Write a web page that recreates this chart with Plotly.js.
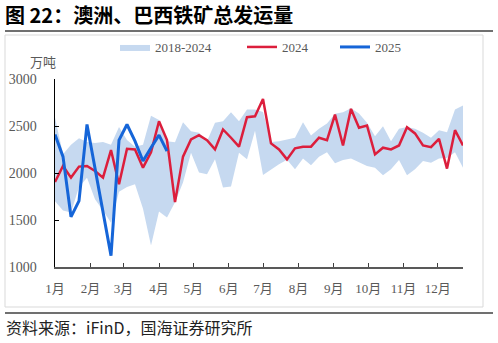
<!DOCTYPE html>
<html><head><meta charset="utf-8">
<script src="https://cdn.plot.ly/plotly-3.0.1.min.js"></script>
<style>html,body{margin:0;padding:0;background:#fff;}#chart{width:498px;height:343px;}</style>
</head><body><div id="chart"></div>
<script>
// ---- data ----
const weekStart = [2024, 0, 1];
const monthStarts = ['2024-01-01','2024-02-01','2024-03-01','2024-04-01','2024-05-01','2024-06-01','2024-07-01','2024-08-01','2024-09-01','2024-10-01','2024-11-01','2024-12-01'];
const monthLabels = ['1月','2月','3月','4月','5月','6月','7月','8月','9月','10月','11月','12月'];
const bandLower = [1700,1600,1580,1850,1950,1720,1600,1470,1800,1850,1880,1620,1230,1590,1527,1690,1898,2216,2004,1986,2145,1845,1856,2216,2145,2450,1980,2039,2092,2140,2039,2153,2082,2174,2222,2103,2138,2153,2110,2074,2057,1976,2039,2138,1976,2039,2127,2110,2153,2160,2222,2057];
const bandUpper = [2590,2200,2300,2370,2330,2320,2330,2300,2490,2350,2280,2300,2610,2565,2339,2328,2540,2445,2428,2339,2534,2551,2646,2551,2675,2675,2650,2330,2339,2357,2375,2540,2400,2470,2526,2630,2646,2690,2632,2534,2392,2498,2339,2470,2490,2470,2428,2375,2456,2434,2675,2717];
const y2024 = [1905,2074,1951,2068,2074,2021,1951,2244,1880,2258,2251,2057,2220,2551,2350,1690,2174,2357,2403,2350,2251,2463,2375,2280,2594,2604,2788,2315,2251,2145,2262,2280,2280,2375,2350,2622,2293,2682,2481,2505,2198,2269,2251,2293,2487,2421,2293,2275,2364,2047,2456,2293];
const y2025 = [2410,2174,1534,1703,2516,2060,1600,1121,2350,2516,2339,2127,2269,2403,2233];

// weekly category dates (week index -> date on a common annual axis)
function weekDates(n){
  const out=[];
  for(let i=0;i<n;i++){
    const d=new Date(Date.UTC(weekStart[0],weekStart[1],weekStart[2]+7*i));
    out.push(d.toISOString().slice(0,10));
  }
  return out;
}
const wk = weekDates(bandUpper.length);

// ---- layout helpers (pixel -> paper) ----
const L=55, R=463, T=79, B=267;
const px=X=>(X-L)/(R-L), py=Y=>(B-Y)/(B-T);

const serif='"Liberation Serif","Times New Roman","Noto Sans CJK SC",serif';
const cjk='"Noto Sans CJK SC","Noto Sans",sans-serif';
const grey='#595959';

const traces=[
 {x:wk,y:bandLower,type:'scatter',mode:'lines',line:{width:0,color:'rgba(0,0,0,0)'},showlegend:false,hoverinfo:'skip'},
 {x:wk,y:bandUpper,type:'scatter',mode:'lines',fill:'tonexty',fillcolor:'#C6D9F0',line:{width:0,color:'#C6D9F0'},name:'2018-2024',legend:'legend'},
 {x:wk,y:y2024,type:'scatter',mode:'lines',line:{width:2.5,color:'#DC1E3C'},name:'2024',legend:'legend2'},
 {x:wk.slice(0,y2025.length),y:y2025,type:'scatter',mode:'lines',line:{width:3,color:'#1565D8'},name:'2025',legend:'legend3'}
];

const legBase={orientation:'h',yanchor:'middle',xanchor:'left',y:py(47),bgcolor:'rgba(0,0,0,0)',font:{family:serif,size:13,color:grey}};

const layout={
 width:498,height:343,
 margin:{l:L,r:498-R,t:T,b:343-B},
 paper_bgcolor:'#fff',plot_bgcolor:'#fff',
 title:{text:'<b>图 22：澳洲、巴西铁矿总发运量</b>',x:5/498,xanchor:'left',xref:'container',y:1-16/343,yref:'container',yanchor:'middle',font:{family:cjk,size:20,color:'#000'}},
 xaxis:{type:'date',range:[wk[0],wk[wk.length-1]],tickvals:monthStarts,ticktext:monthLabels,ticks:'inside',ticklen:4,tickcolor:'#404040',showline:true,linecolor:'#595959',linewidth:1.5,showgrid:false,zeroline:false,tickfont:{family:serif,size:13,color:grey},ticklabelstandoff:9},
 yaxis:{range:[1000,3000],tickvals:[1000,1500,2000,2500,3000],ticks:'inside',ticklen:4,tickcolor:'#000',showline:true,linecolor:'#000',linewidth:1.5,showgrid:false,zeroline:false,tickfont:{family:serif,size:14,color:grey},ticklabelstandoff:14},
 legend:Object.assign({},legBase,{x:px(115)}),
 legend2:Object.assign({},legBase,{x:px(242)}),
 legend3:Object.assign({},legBase,{x:px(335)}),
 annotations:[
  {text:'万吨',xref:'paper',yref:'paper',x:px(43),y:py(61),xanchor:'center',yanchor:'middle',showarrow:false,font:{family:cjk,size:13,color:grey}},
  {text:'资料来源：iFinD，国海证券研究所',xref:'paper',yref:'paper',x:px(4),y:py(327),xanchor:'left',yanchor:'middle',showarrow:false,font:{family:cjk,size:16,color:'#222'}}
 ],
 shapes:[
  {type:'rect',xref:'paper',yref:'paper',x0:px(5),x1:px(483),y0:py(307),y1:py(35),line:{color:'#D9D9D9',width:1},layer:'below'},
  {type:'line',xref:'paper',yref:'paper',x0:px(5),x1:px(493),y0:py(31),y1:py(31),line:{color:'#404040',width:1.5}},
  {type:'line',xref:'paper',yref:'paper',x0:px(5),x1:px(493),y0:py(313),y1:py(313),line:{color:'#404040',width:1.5}}
 ],
 showlegend:true
};
Plotly.newPlot('chart',traces,layout,{displayModeBar:false,staticPlot:true});
</script></body></html>
